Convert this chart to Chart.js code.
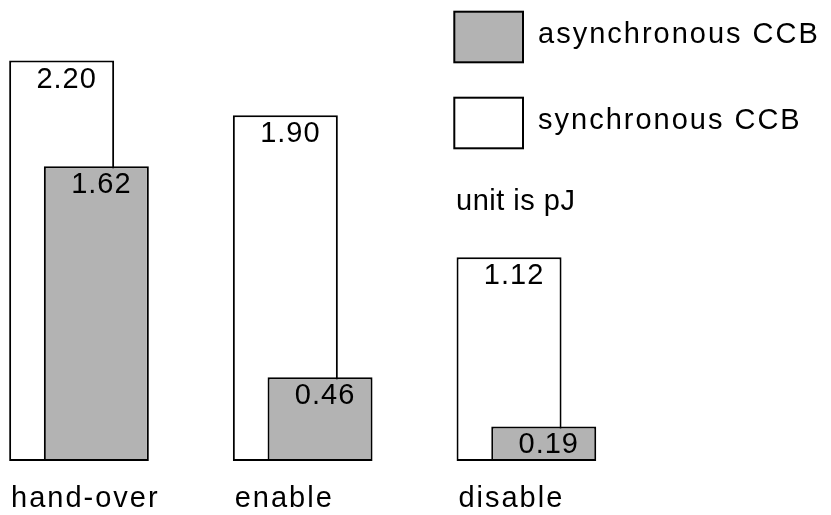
<!DOCTYPE html>
<html><head><meta charset="utf-8">
<script src="https://cdn.jsdelivr.net/npm/chart.js@4/dist/chart.umd.min.js"></script>
<style>html,body{margin:0;padding:0;background:#fff;}</style>
</head><body>
<canvas id="c" width="831" height="515"></canvas>
<script>
const categories = ['hand-over', 'enable', 'disable'];
const syncValues = [2.20, 1.90, 1.12];
const asyncValues = [1.62, 0.46, 0.19];
const seriesNames = ['synchronous CCB', 'asynchronous CCB'];
const unitNote = 'unit is pJ';
const yMax = 2.5;

const FONT = '"Liberation Sans", Arial, sans-serif';
const GRAY = '#b3b3b3';
const SYNC = 0, ASYNC = 1;

const overlayPlugin = {
  id: 'overlay',
  beforeDraw(chart) { chart.ctx.letterSpacing = '2px'; },
  beforeDatasetDraw(chart, args) {
    if (args.index === ASYNC) return false; // drawn later, on top of the white bars
  },
  afterDatasetsDraw(chart) {
    const ctx = chart.ctx;
    chart.getDatasetMeta(ASYNC).controller.draw();
    ctx.save();
    ctx.letterSpacing = '1px';
    ctx.font = '29px ' + FONT;
    ctx.fillStyle = '#000';
    ctx.textAlign = 'center';
    ctx.textBaseline = 'alphabetic';
    [SYNC, ASYNC].forEach(di => {
      const vals = chart.data.datasets[di].data;
      chart.getDatasetMeta(di).data.forEach((el, j) => {
        ctx.fillText(vals[j].toFixed(2), el.x + 5, el.y + 27);
      });
    });
    ctx.restore();
  },
  afterDraw(chart) {
    const ctx = chart.ctx;
    ctx.save();
    ctx.letterSpacing = '2px';
    ctx.font = '29px ' + FONT;
    ctx.fillStyle = '#000';
    ctx.textAlign = 'left';
    ctx.textBaseline = 'alphabetic';
    ctx.lineWidth = 2;
    ctx.strokeStyle = '#000';
    const items = [
      {ds: chart.data.datasets[ASYNC], y: 11.7, ty: 42.5},
      {ds: chart.data.datasets[SYNC], y: 97.7, ty: 128.5}
    ];
    items.forEach(it => {
      ctx.fillStyle = it.ds.backgroundColor;
      ctx.fillRect(454.3, it.y, 68.7, 50.6);
      ctx.strokeRect(454.3, it.y, 68.7, 50.6);
      ctx.fillStyle = '#000';
      ctx.fillText(it.ds.label, 538, it.ty);
    });
    ctx.letterSpacing = '0.5px';
    ctx.fillText(unitNote, 456, 210);
    ctx.restore();
  }
};

new Chart(document.getElementById('c'), {
  type: 'bar',
  data: {
    labels: categories,
    datasets: [
      {label: seriesNames[SYNC], data: syncValues, backgroundColor: '#ffffff', borderColor: '#000', borderWidth: 2, borderSkipped: false, clip: false},
      {label: seriesNames[ASYNC], data: asyncValues, backgroundColor: GRAY, borderColor: '#000', borderWidth: 2, borderSkipped: false, clip: false}
    ]
  },
  options: {
    responsive: false,
    animation: false,
    devicePixelRatio: 1,
    categoryPercentage: 0.3102,
    barPercentage: 3.026,
    layout: {padding: {left: 79, right: 304.6, top: 6, bottom: 0}},
    plugins: {legend: {display: false}, tooltip: {enabled: false}},
    scales: {
      x: {
        offset: false,
        grid: {display: false},
        border: {display: false},
        ticks: {
          align: 'start', labelOffset: -68, padding: 13, autoSkip: false, maxRotation: 0, minRotation: 0,
          color: '#000', font: {family: FONT, size: 29}
        },
        afterFit(s) { s.height = 54; }
      },
      y: {display: false, min: 0, max: yMax}
    }
  },
  plugins: [overlayPlugin]
});
</script>
</body></html>
